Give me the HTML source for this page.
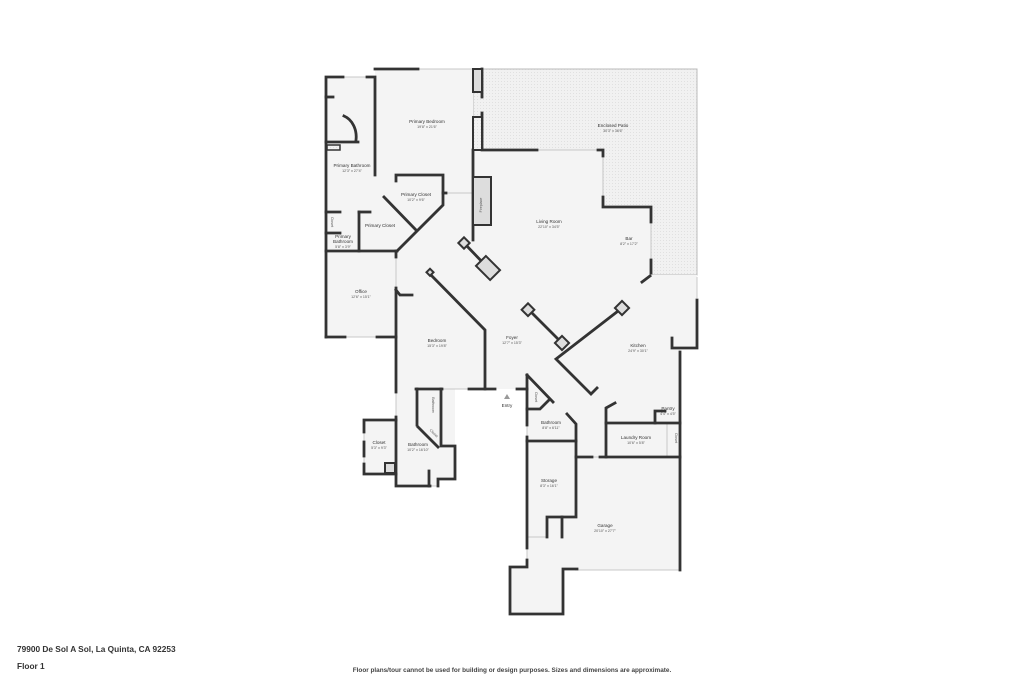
<!DOCTYPE html>
<html><head><meta charset="utf-8"><style>
html,body{margin:0;padding:0;background:#fff;}
svg{display:block;}
.w{stroke:#333;stroke-width:2.8;fill:none;stroke-linecap:square;}
.t{stroke:#c8c8c8;stroke-width:1;fill:none;}
.l{font-family:"Liberation Sans",sans-serif;font-size:4.6px;fill:#333;text-anchor:middle;}
.d{font-family:"Liberation Sans",sans-serif;font-size:3.6px;fill:#555;text-anchor:middle;}
.b{fill:#ddd;stroke:#333;stroke-width:2;}
</style></head><body>
<svg width="1024" height="683" viewBox="0 0 1024 683" xmlns="http://www.w3.org/2000/svg">
<defs>
<pattern id="h" width="3" height="3" patternUnits="userSpaceOnUse"><rect width="3" height="3" fill="#f1f1f1"/><rect width="1" height="1" fill="#e0e0e0"/></pattern>
</defs>
<rect x="473" y="69" width="224" height="206" fill="url(#h)" stroke="#bbb" stroke-width="1"/>
<polygon fill="#f4f4f4" points="326,77 375,77 375,69 473,69 473,150 602,150 602,207 651,207 651,275 697,275 697,348 680,348 680,570 563,570 563,614 510,614 510,567 527,567 527,389 455,389 455,479 438,479 438,486 396,486 396,474 364,474 364,420 396,420 396,337 326,337"/>
<g class="t">
<line x1="418" y1="69" x2="473" y2="69"/><line x1="537" y1="150" x2="598" y2="150"/>
<line x1="603" y1="156" x2="603" y2="197"/><line x1="651" y1="222" x2="651" y2="260"/>
<line x1="697" y1="277" x2="697" y2="298"/><line x1="443" y1="193" x2="473" y2="193"/>
<line x1="343" y1="77" x2="367" y2="77"/><line x1="345" y1="337" x2="377" y2="337"/>
<line x1="396" y1="257" x2="396" y2="288"/><line x1="442" y1="389" x2="469" y2="389"/>
<line x1="396" y1="392" x2="396" y2="417"/><line x1="527" y1="425" x2="527" y2="437"/>
<line x1="592" y1="457" x2="600" y2="457"/><line x1="528" y1="537" x2="547" y2="537"/>
<line x1="575" y1="570" x2="680" y2="570"/><line x1="680" y1="548" x2="680" y2="560"/>
<line x1="430" y1="486" x2="438" y2="486"/><line x1="364" y1="432" x2="364" y2="442"/>
<line x1="364" y1="456" x2="364" y2="464"/><line x1="326" y1="292" x2="326" y2="304"/>
<line x1="667" y1="423" x2="667" y2="457"/><line x1="527" y1="548" x2="527" y2="560"/>
</g>
<g class="w">
<polyline points="326,337 326,77 343,77"/><polyline points="367,77 375,77 375,175"/>
<polyline points="375,69 418,69"/>
<polyline points="482,69 482,97"/><polyline points="482,113 482,150 537,150"/>
<polyline points="598,150 603,150 603,156"/><polyline points="603,197 603,207 651,207 651,222"/>
<polyline points="651,260 651,273"/><line x1="642" y1="282" x2="650" y2="276"/>
<polyline points="697,300 697,348 672,348 672,338"/><polyline points="680,352 680,570"/>
<polyline points="473,150 473,240"/>
<polyline points="396,181 396,175 443,175 443,205 397,251"/><line x1="443" y1="193" x2="446" y2="193"/>
<line x1="384" y1="197" x2="416" y2="230"/>
<polyline points="359,212 359,251"/><line x1="359" y1="212" x2="370" y2="212"/>
<line x1="326" y1="251" x2="397" y2="251"/><line x1="326" y1="233" x2="340" y2="233"/>
<line x1="326" y1="212" x2="340" y2="212"/><line x1="326" y1="97" x2="333" y2="97"/>
<line x1="326" y1="142" x2="358" y2="142"/>
<path d="M344,116 A18,22 0 0 1 356,140"/>
<polyline points="396,251 396,257"/><polyline points="396,288 396,337 377,337"/><line x1="326" y1="337" x2="345" y2="337"/>
<polyline points="396,290 400,295 412,295"/>
<polyline points="428,272 485,330 485,389"/>
<polyline points="396,337 396,392"/><polyline points="416,389 442,389"/><polyline points="469,389 495,389"/><polyline points="517,389 527,389"/>
<polyline points="396,417 396,486 430,486"/><polyline points="429,471 429,486"/>
<polyline points="417,389 417,425"/><polyline points="441,389 441,446 455,446 455,479 438,479 438,486"/>
<line x1="418" y1="427" x2="438" y2="447"/>
<polyline points="396,420 364,420 364,432"/><polyline points="364,442 364,456"/><polyline points="364,464 364,474 396,474"/>
<polyline points="527,375 527,425"/><polyline points="527,437 527,548"/><polyline points="527,560 527,567 510,567 510,614 563,614 563,569 577,569"/>
<polyline points="527,375 553,402"/><polyline points="527,409 540,409 549,400"/>
<polyline points="567,414 576,424 576,517 547,517 547,537"/><line x1="562" y1="517" x2="562" y2="537"/>
<line x1="527" y1="441" x2="576" y2="441"/>
<line x1="576" y1="457" x2="592" y2="457"/><line x1="600" y1="457" x2="680" y2="457"/>
<polyline points="606,457 606,408 615,403"/><line x1="606" y1="423" x2="680" y2="423"/>
<polyline points="655,423 655,411 665,411"/>
<polyline points="622,308 556,359 591,394 597,388"/>
<line x1="528" y1="309" x2="562" y2="343"/>
<line x1="464" y1="243" x2="488" y2="268"/>
</g>
<rect x="473" y="69" width="9" height="23" class="b"/>
<rect x="473" y="117" width="9" height="33" fill="url(#h)" stroke="#333" stroke-width="2"/>
<rect x="473" y="177" width="18" height="48" class="b"/>
<rect x="327" y="145" width="13" height="5" fill="url(#h)" stroke="#333" stroke-width="1.5"/>
<rect x="385" y="463" width="10" height="10" class="b"/>
<rect x="460" y="239" width="8" height="8" class="b" transform="rotate(45 464 243)"/>
<rect x="481" y="258" width="14" height="20" class="b" transform="rotate(-45 488 268)"/>
<rect x="524" y="305" width="9" height="9" class="b" transform="rotate(45 528 309)"/>
<rect x="557" y="338" width="10" height="10" class="b" transform="rotate(45 562 343)"/>
<rect x="617" y="303" width="10" height="10" class="b" transform="rotate(45 622 308)"/>
<rect x="427" y="270" width="5" height="5" class="b" transform="rotate(45 430 273)"/>
<polygon points="507,394 504,399 510,399" fill="#999"/>
<text class="l" x="427" y="123">Primary Bedroom</text><text class="d" x="427" y="128">19'8" x 21'6"</text>
<text class="l" x="613" y="127">Enclosed Patio</text><text class="d" x="613" y="132">30'3" x 36'6"</text>
<text class="l" x="352" y="167">Primary Bathroom</text><text class="d" x="352" y="172">12'3" x 27'4"</text>
<text class="l" x="416" y="196">Primary Closet</text><text class="d" x="416" y="201">10'2" x 9'6"</text>
<text class="l" x="380" y="227">Primary Closet</text>
<text class="l" x="549" y="223">Living Room</text><text class="d" x="549" y="228">22'10" x 34'5"</text>
<text class="l" x="629" y="240">Bar</text><text class="d" x="629" y="245">8'2" x 17'2"</text>
<text class="d" x="482" y="205" transform="rotate(-90 482 205)">Fireplace</text>
<text class="d" x="331" y="222" transform="rotate(90 331 222)">Closet</text>
<text class="l" x="343" y="238">Primary</text><text class="l" x="343" y="243">Bathroom</text><text class="d" x="343" y="248">5'8" x 3'9"</text>
<text class="l" x="361" y="293">Office</text><text class="d" x="361" y="298">12'6" x 15'1"</text>
<text class="l" x="437" y="342">Bedroom</text><text class="d" x="437" y="347">15'3" x 19'8"</text>
<text class="l" x="512" y="339">Foyer</text><text class="d" x="512" y="344">12'7" x 15'3"</text>
<text class="l" x="638" y="347">Kitchen</text><text class="d" x="638" y="352">24'9" x 30'1"</text>
<text class="l" x="507" y="407">Entry</text>
<text class="d" x="535" y="397" transform="rotate(90 535 397)">Closet</text>
<text class="l" x="551" y="424">Bathroom</text><text class="d" x="551" y="429">8'8" x 6'11"</text>
<text class="l" x="668" y="410">Pantry</text><text class="d" x="668" y="415">4'4" x 4'5"</text>
<text class="l" x="636" y="439">Laundry Room</text><text class="d" x="636" y="444">10'6" x 5'8"</text>
<text class="d" x="675" y="438" transform="rotate(90 675 438)">Closet</text>
<text class="d" x="432" y="405" transform="rotate(90 432 405)">Bathroom</text>
<text class="d" x="433" y="434" transform="rotate(45 433 434)">Closet</text>
<text class="l" x="379" y="444">Closet</text><text class="d" x="379" y="449">5'3" x 9'3"</text>
<text class="l" x="418" y="446">Bathroom</text><text class="d" x="418" y="451">10'2" x 16'10"</text>
<text class="l" x="549" y="482">Storage</text><text class="d" x="549" y="487">8'3" x 16'1"</text>
<text class="l" x="605" y="527">Garage</text><text class="d" x="605" y="532">20'10" x 27'7"</text>
<text x="17" y="652" font-family="Liberation Sans,sans-serif" font-size="8.3" font-weight="bold" fill="#333">79900 De Sol A Sol, La Quinta, CA 92253</text>
<text x="17" y="669" font-family="Liberation Sans,sans-serif" font-size="8.3" font-weight="bold" fill="#333">Floor 1</text>
<text x="512" y="672" font-family="Liberation Sans,sans-serif" font-size="6.4" font-weight="bold" fill="#444" text-anchor="middle">Floor plans/tour cannot be used for building or design purposes. Sizes and dimensions are approximate.</text>
</svg>
</body></html>
